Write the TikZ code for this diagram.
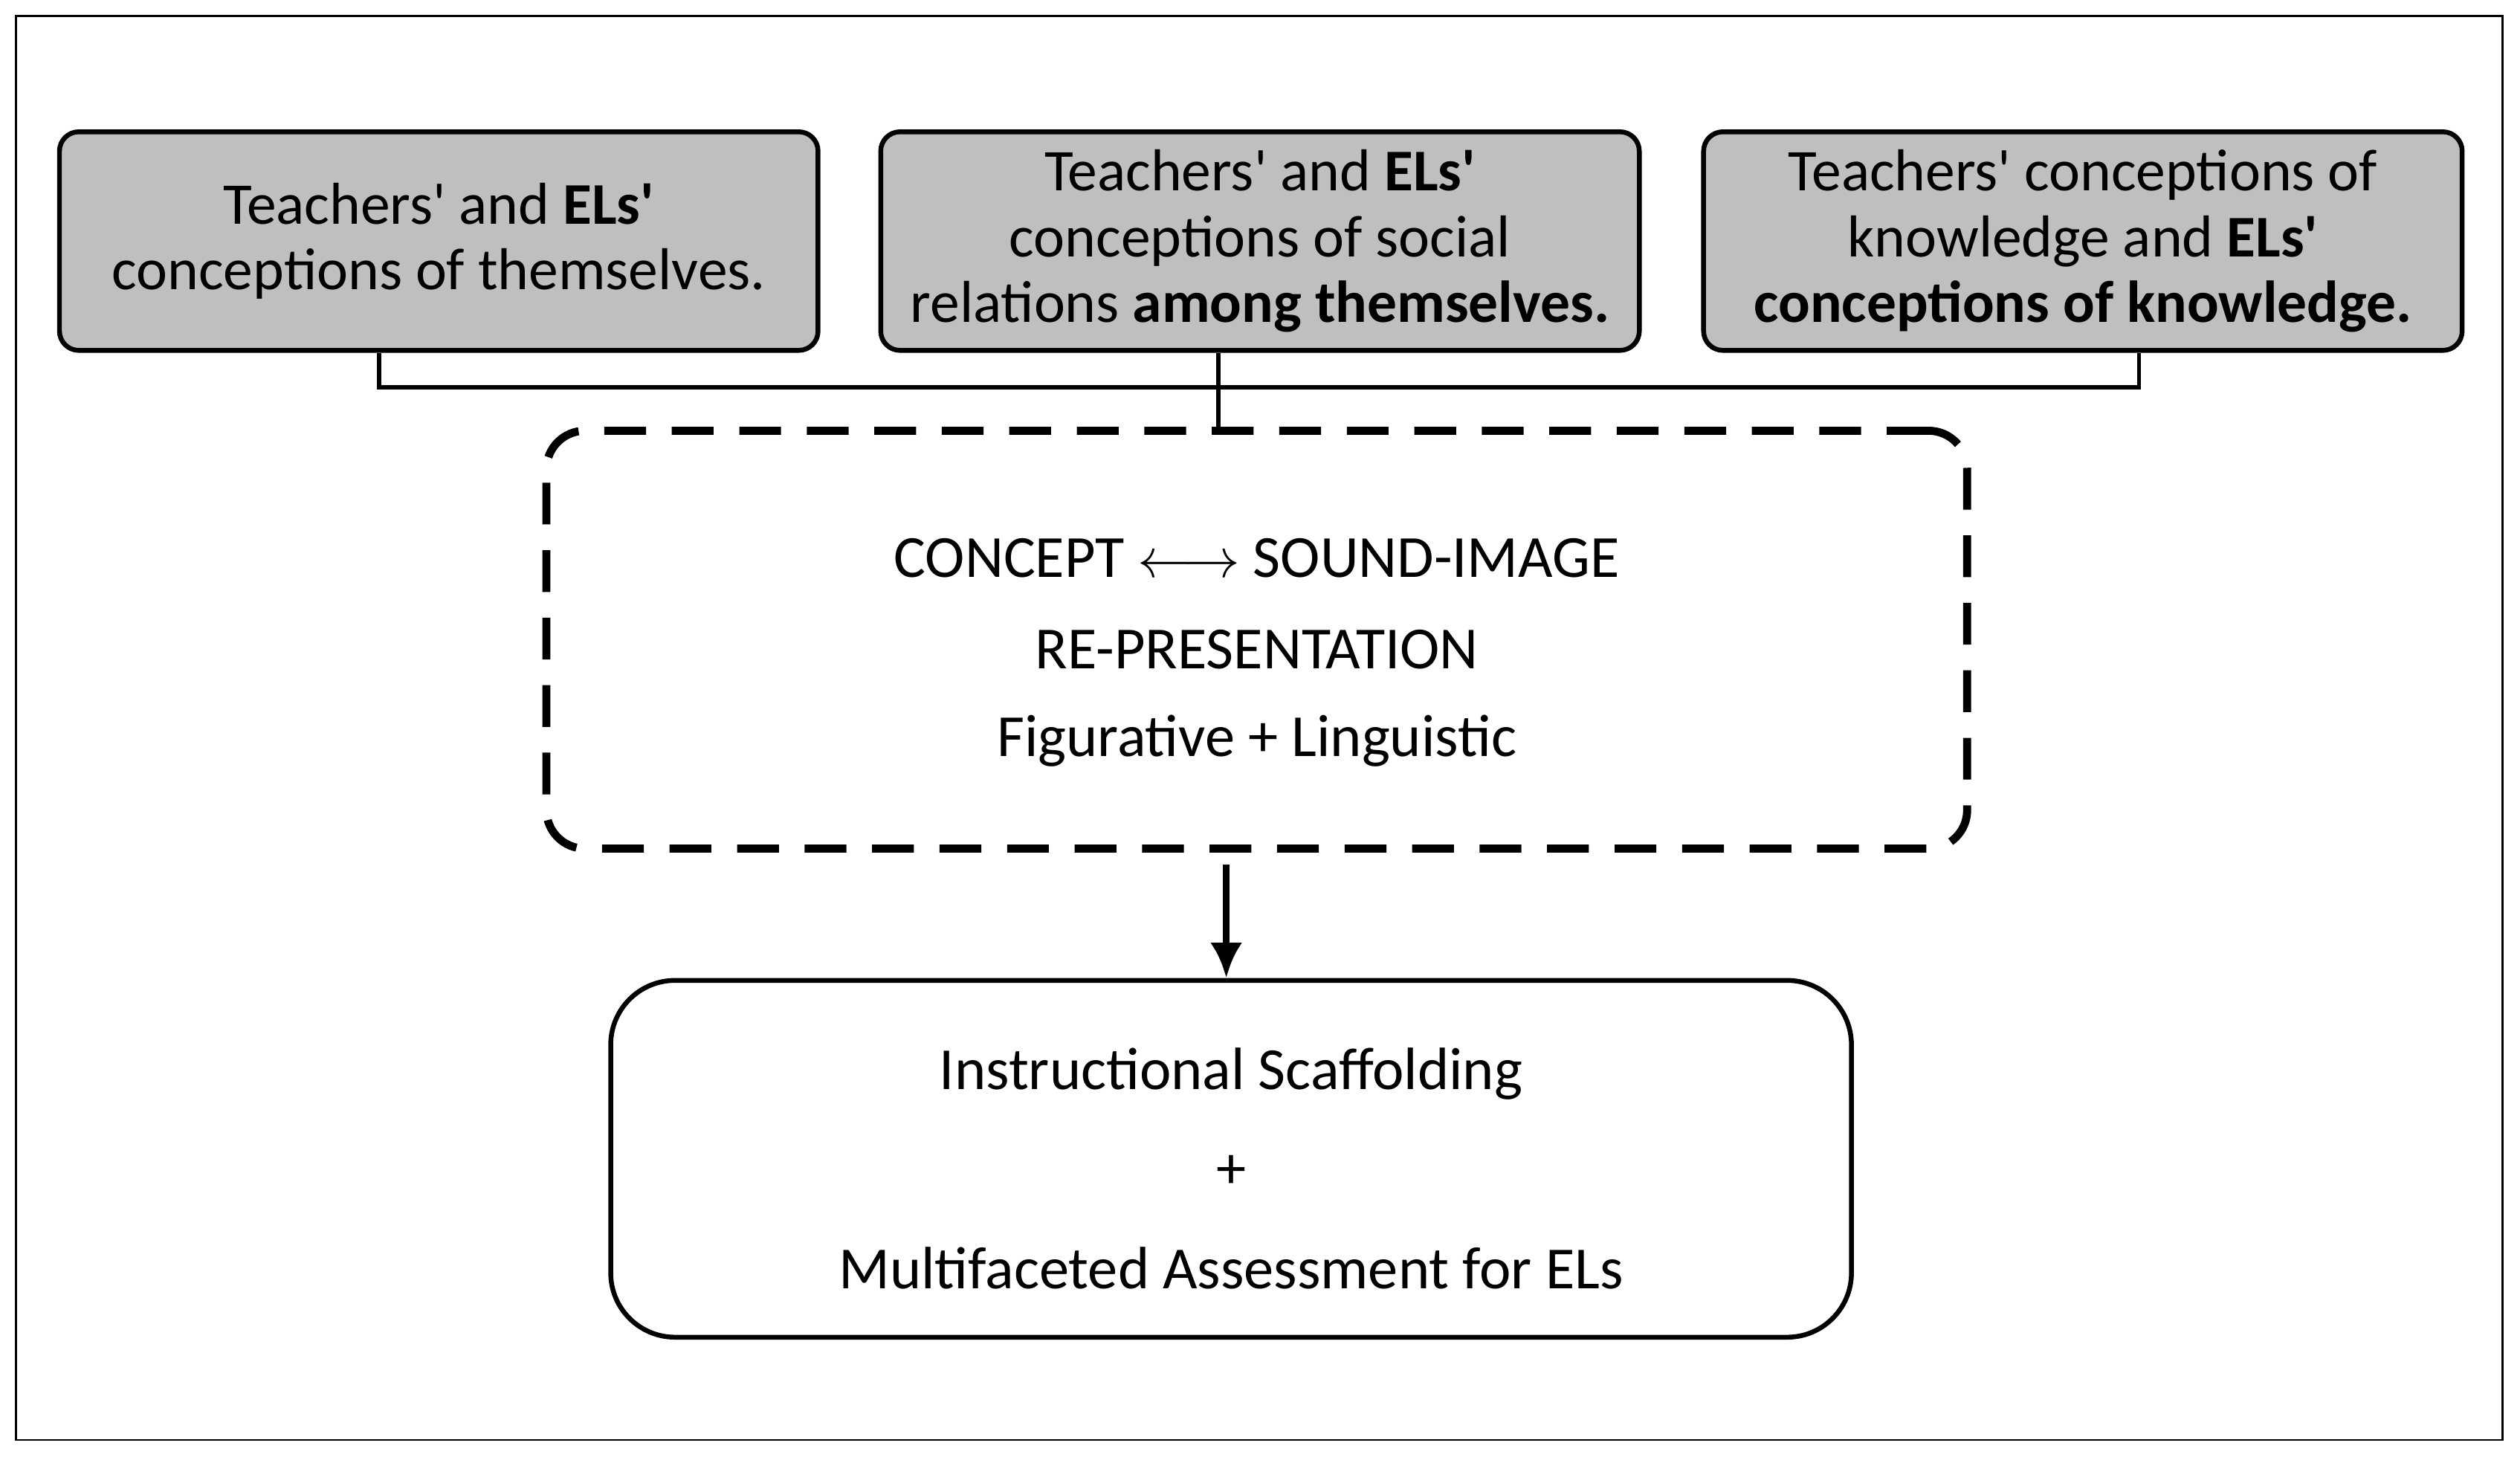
\documentclass[tikz,border=0pt]{standalone}
\usetikzlibrary{arrows.meta}
\usepackage{fontspec}
\setmainfont{Carlito}
\newcommand{\q}{\textquotesingle}
\begin{document}
\begin{tikzpicture}[x=0.5pt,y=-0.5pt,
 top/.style={draw,line width=1.5pt,fill=gray!50,rounded corners=6pt,minimum width=236pt,minimum height=68pt,align=center,font=\fontsize{18.4}{20.5}\selectfont,inner sep=0pt},
 ln/.style={line width=1.3pt},
 txt/.style={font=\fontsize{18.6}{20}\selectfont}]
\draw[line width=0.6pt] (10,10) rectangle (1557,896);
\useasboundingbox (0,0) rectangle (1568,910);
\node[top] (a) at (273,150) {Teachers\q{} and \textbf{ELs\q}\\conceptions of themselves.};
\node[top] (b) at (784,150) {Teachers\q{} and \textbf{ELs\q}\\conceptions of social\\relations \textbf{among themselves.}};
\node[top] (c) at (1296,150) {Teachers\q{} conceptions of\\knowledge and \textbf{ELs\q}\\\textbf{conceptions of knowledge.}};
\node[draw,dashed,line width=2.5pt,dash pattern=on 13pt off 8pt,rounded corners=12pt,minimum width=442pt,minimum height=130pt] (d) at (782,398) {};
\node[draw,line width=1.5pt,rounded corners=20pt,minimum width=386pt,minimum height=111pt] (e) at (766,721) {};
\node[txt] at (782,347) {CONCEPT $\longleftrightarrow$ SOUND-IMAGE};
\node[txt] at (782,404) {RE-PRESENTATION};
\node[txt] at (782,461) {Figurative + Linguistic};
\node[txt] at (766,668) {Instructional Scaffolding};
\node[txt] at (766,729) {+};
\node[txt] at (766,789) {Multifaceted Assessment for ELs};
\coordinate (l) at (236,241);
\coordinate (r) at (1331,241);
\draw[ln] (a.south -| l) -- (l) -- (r) -- (c.south -| r);
\draw[ln] (b.south -| 758,0) -- (758,268);
\draw[line width=2.2pt,-{Latex[length=11pt,width=10pt]}] (763,538) -- (e.north -| 763,0);
\end{tikzpicture}
\end{document}
